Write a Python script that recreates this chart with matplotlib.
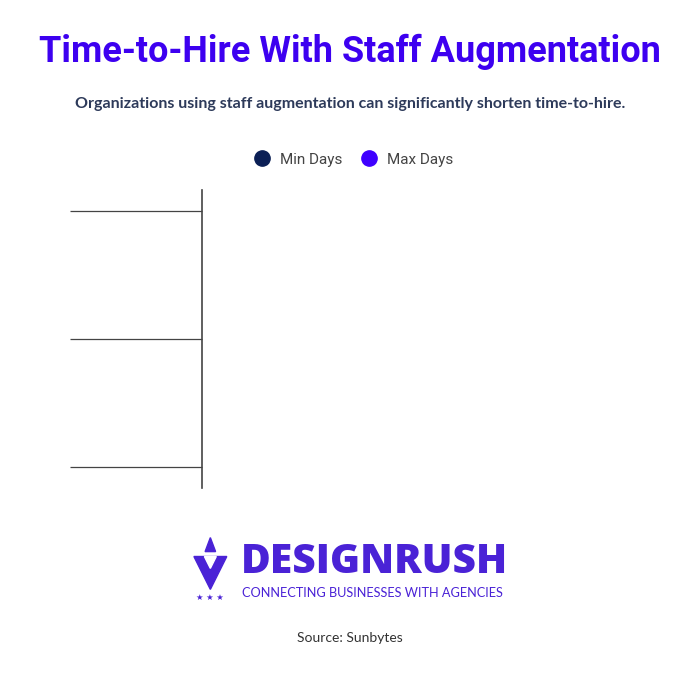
"""Time-to-hire chart with staff augmentation (empty bar state)."""

import matplotlib
matplotlib.use("Agg")
import matplotlib.pyplot as plt
import numpy as np
from matplotlib.patches import Polygon

# data as shown: two category bands, bars not rendered (zero length)
categories = ["", ""]
min_days = [0, 0]
max_days = [0, 0]
series_names = ["Min Days", "Max Days"]
series_colors = ["#0b1f55", "#3f00ff"]

title = "Time-to-Hire With Staff Augmentation"
subtitle = "Organizations using staff augmentation can significantly shorten time-to-hire."
source = "Source: Sunbytes"

plt.rcParams["font.family"] = ["Roboto", "DejaVu Sans"]

fig = plt.figure(figsize=(7, 7), dpi=100)
fig.patch.set_facecolor("white")

ax = fig.add_axes([0.2886, 0.3029, 0.62, 0.4257])
y = np.arange(len(categories))
h = 0.35
ax.barh(y - h / 2, min_days, height=h, color=series_colors[0])
ax.barh(y + h / 2, max_days, height=h, color=series_colors[1])

ax.set_ylim(len(categories) - 0.5 + 0.164, -0.5 - 0.164)
ax.set_xlim(0, 1)
ax.set_yticks(y)
ax.set_yticklabels(categories)
ax.tick_params(axis="y", which="major", length=0)
ax.set_yticks(np.arange(len(categories) + 1) - 0.5, minor=True)
ax.tick_params(axis="y", which="minor", length=95, width=0.9, color="#444444")
ax.set_xticks([])
for side in ["top", "right", "bottom"]:
    ax.spines[side].set_visible(False)
ax.spines["left"].set_color("#444444")
ax.spines["left"].set_linewidth(1.2)

# title block
fig.text(0.5, 0.926, title, ha="center", va="center", fontsize=26,
         fontweight="bold", color="#3d00f0")
fig.text(0.5, 0.852, subtitle, ha="center", va="center", fontsize=11.5,
         color="#2d3a5a", family=["Lato", "DejaVu Sans"], fontweight="bold")

# legend
handles = [plt.Line2D([], [], marker="o", linestyle="", markersize=11,
                      color=c) for c in series_colors]
fig.legend(handles, series_names, loc="center", bbox_to_anchor=(0.5, 0.772),
           ncol=2, frameon=False, fontsize=11, handletextpad=0.15,
           columnspacing=0.8, labelcolor="#444444")

# logo
logo = "#4a22d6"
fig.patches.append(Polygon([[0.277, 0.205], [0.324, 0.205], [0.3005, 0.158]],
                           closed=True, color=logo, transform=fig.transFigure))
fig.patches.append(Polygon([[0.292, 0.205], [0.309, 0.205], [0.3005, 0.188]],
                           closed=True, color="white", transform=fig.transFigure))
fig.patches.append(Polygon([[0.293, 0.212], [0.3005, 0.232], [0.308, 0.212]],
                           closed=True, color=logo, transform=fig.transFigure))
fig.text(0.3005, 0.146, "★ ★ ★", ha="center", va="center", fontsize=6,
         color=logo, family=["DejaVu Sans"])
fig.text(0.344, 0.196, "DESIGNRUSH", ha="left", va="center", fontsize=29.3,
         fontweight="heavy", color=logo, family=["Open Sans", "DejaVu Sans"])
fig.text(0.346, 0.153, "CONNECTING BUSINESSES WITH AGENCIES", ha="left",
         va="center", fontsize=9.2, color=logo, family=["Lato", "DejaVu Sans"])

fig.text(0.5, 0.089, source, ha="center", va="center", fontsize=10,
         color="#333333", family=["Lato", "DejaVu Sans"])

fig.savefig("out.png", dpi=100, facecolor="white")
